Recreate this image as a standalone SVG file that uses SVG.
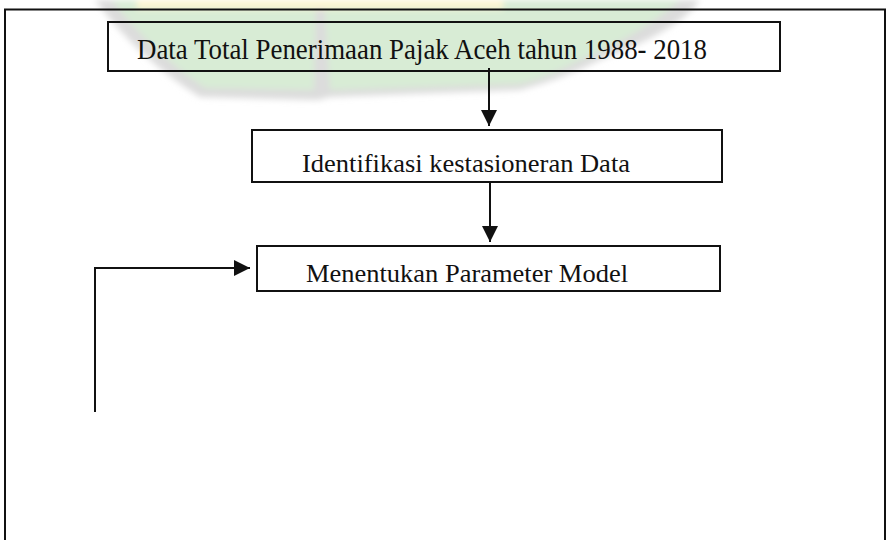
<svg xmlns="http://www.w3.org/2000/svg" width="886" height="540" viewBox="0 0 886 540">
  <style>
    .box { fill: none; stroke: #111; stroke-width: 2; }
    .lbl { font-family: "Liberation Serif", "Times New Roman", serif; fill: #111; }
    .conn { fill: none; stroke: #111; stroke-width: 2; }
  </style>
  <defs>
    <marker id="arrow" markerUnits="userSpaceOnUse" markerWidth="16" markerHeight="16" viewBox="0 0 16 16" refX="16" refY="8" orient="auto">
      <path d="M0,0 L16,8 L0,16 Z" fill="#111"/>
    </marker>
    <filter id="blur" x="-10%" y="-10%" width="120%" height="120%">
      <feGaussianBlur stdDeviation="3"/>
    </filter>
  </defs>
  <rect width="886" height="540" fill="#ffffff"/>
  <g id="watermark" filter="url(#blur)">
    <path d="M95,0 L700,0 Q 680,30 600,60 Q 560,80 520,90 L330,97 L318,100 L200,97 Q 140,60 95,0 Z" fill="#dcdcdc"/>
    <path d="M112,0 L316,0 L314,90 L205,88 Q 150,50 112,0 Z" fill="#d8ecd5"/>
    <path d="M324,0 L680,0 Q 640,35 580,60 Q 545,78 520,84 L330,90 Z" fill="#d8ecd5"/>
    <rect x="137" y="0" width="366" height="9" fill="#fdf5d2"/>
  </g>
  <g id="frame">
    <rect x="5" y="9.5" width="880" height="540" class="box"/>
  </g>
  <g id="node-data">
    <rect x="108" y="22" width="672" height="49" class="box"/>
    <text x="137" y="59" class="lbl" font-size="29" textLength="570" lengthAdjust="spacingAndGlyphs">Data Total Penerimaan Pajak Aceh tahun 1988- 2018</text>
  </g>
  <g id="node-identifikasi">
    <rect x="252" y="130" width="470" height="52" class="box"/>
    <text x="302" y="172" class="lbl" font-size="26" textLength="328" lengthAdjust="spacingAndGlyphs">Identifikasi kestasioneran Data</text>
  </g>
  <g id="node-parameter">
    <rect x="257" y="246" width="463" height="45" class="box"/>
    <text x="306" y="282" class="lbl" font-size="26" textLength="322" lengthAdjust="spacingAndGlyphs">Menentukan Parameter Model</text>
  </g>
  <g id="connectors">
    <line x1="489" y1="68" x2="489" y2="126" class="conn" marker-end="url(#arrow)"/>
    <line x1="490" y1="182" x2="490" y2="242" class="conn" marker-end="url(#arrow)"/>
    <polyline points="95,412 95,268 250,268" class="conn" marker-end="url(#arrow)"/>
  </g>
</svg>
